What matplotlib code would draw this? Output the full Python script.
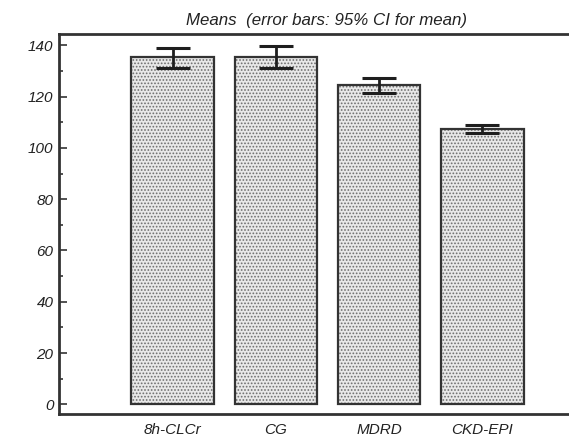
import matplotlib
matplotlib.use("Agg")
import matplotlib.pyplot as plt
import numpy as np
from matplotlib.ticker import MultipleLocator

categories = ["8h-CLCr", "CG", "MDRD", "CKD-EPI"]
means = [135.5, 135.5, 124.7, 107.3]
ci_low = [131.2, 131.1, 121.2, 105.6]
ci_high = [139.1, 139.9, 127.4, 108.8]

plt.rcParams['font.family'] = ['Liberation Sans', 'DejaVu Sans']
plt.rcParams['hatch.linewidth'] = 0.8

fig = plt.figure(figsize=(5.69, 4.36), dpi=100)
ax = fig.add_axes([59/569, (436-414.3)/436, (574-59)/569, (414.3-34)/436])

x = np.arange(len(categories))
width = 0.80
# hatched fill
ax.bar(x, means, width=width, color='#e8e8e8', edgecolor='#6e6e6e', hatch='.....', linewidth=0, zorder=2)
# outline
ax.bar(x, means, width=width, fill=False, edgecolor='#333333', linewidth=1.6, zorder=3)

centers = (np.array(ci_low) + np.array(ci_high)) / 2
half = (np.array(ci_high) - np.array(ci_low)) / 2
ax.errorbar(x, centers, yerr=half, fmt='none', ecolor='#1e1e1e', elinewidth=2.0,
            capsize=12, capthick=2.2, zorder=4)

xlim_right = 3 + (574 - 482.3) / 103.3
ax.set_xlim(-1.1, xlim_right)
ax.set_ylim(-3.9, 144.4)
ax.yaxis.set_major_locator(MultipleLocator(20))
ax.yaxis.set_minor_locator(MultipleLocator(10))
ax.set_xticks(x)
ax.set_xticklabels(categories, fontstyle='italic', fontsize=11)
ax.tick_params(axis='x', length=0, pad=6)
ax.tick_params(axis='y', which='major', direction='in', length=6, width=1.2, color='#333333',
               labelsize=11, pad=4)
ax.tick_params(axis='y', which='minor', direction='in', length=3, width=1.2, color='#333333')
for lab in ax.get_yticklabels():
    lab.set_fontstyle('italic')
    lab.set_color('#222222')
for lab in ax.get_xticklabels():
    lab.set_color('#222222')

for s in ax.spines.values():
    s.set_linewidth(2.0)
    s.set_color('#333333')

fig.text(327/569, 1 - 20/436, "Means  (error bars: 95% CI for mean)", ha='center', va='center',
         fontstyle='italic', fontsize=12.2, color='#222222')

fig.savefig("out.png", dpi=100)
